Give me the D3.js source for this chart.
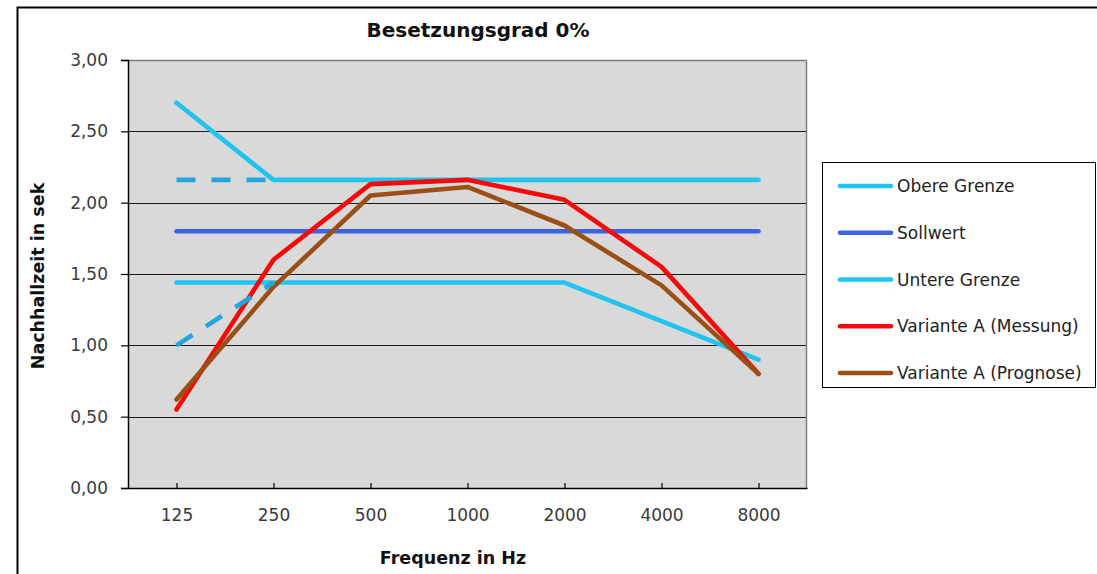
<!DOCTYPE html>
<html>
<head>
<meta charset="utf-8">
<script src="https://cdn.jsdelivr.net/npm/d3@7"></script>
<style>
  html, body { margin: 0; padding: 0; background: #fff; }
  svg { display: block; }
  text { font-family: "DejaVu Sans", sans-serif; }
</style>
</head>
<body>
<svg id="chart" width="1097" height="574"></svg>
<script>
// Frequenzbänder (Hz)
const frequencies = ["125", "250", "500", "1000", "2000", "4000", "8000"];

// Nachhallzeit in Sekunden je Band
const obereGrenze   = [2.70, 2.16, 2.16, 2.16, 2.16, 2.16, 2.16];
const sollwert      = [1.80, 1.80, 1.80, 1.80, 1.80, 1.80, 1.80];
const untereGrenze  = [1.44, 1.44, 1.44, 1.44, 1.44, 1.17, 0.90];
const messung       = [0.55, 1.60, 2.13, 2.16, 2.02, 1.55, 0.80];
const prognose      = [0.62, 1.41, 2.05, 2.11, 1.84, 1.42, 0.80];

// Toleranzbereich im Bassbereich (gestrichelt, nur 125–250 Hz)
const obereGrenzeBass  = [2.16, 2.16, null, null, null, null, null];
const untereGrenzeBass = [1.00, 1.44, null, null, null, null, null];

const yTicks = [0, 0.5, 1.0, 1.5, 2.0, 2.5, 3.0];

const titleText = "Besetzungsgrad 0%";
const xTitle = "Frequenz in Hz";
const yTitle = "Nachhallzeit in sek";

const series = [
  { name: "Obere Grenze",            values: obereGrenze,  color: "#20c4ee", legend: true },
  { name: "Sollwert",                values: sollwert,     color: "#3e63e2", legend: true },
  { name: "Untere Grenze",           values: untereGrenze, color: "#20c4ee", legend: true },
  { name: "Variante A (Messung)",    values: messung,      color: "#f50a0a", legend: true },
  { name: "Variante A (Prognose)",   values: prognose,     color: "#9b4f17", legend: true },
  { name: "Obere Grenze (Bass)",     values: obereGrenzeBass,  color: "#22a6dd", legend: false, dashed: true },
  { name: "Untere Grenze (Bass)",    values: untereGrenzeBass, color: "#22a6dd", legend: false, dashed: true }
];

const svg = d3.select("#chart");

// Rahmen des Diagrammbereichs
svg.append("rect")
  .attr("x", 17.5).attr("y", 7.5)
  .attr("width", 1100).attr("height", 600)
  .attr("fill", "#fff")
  .attr("stroke", "#000").attr("stroke-width", 2);

const plot = { left: 128, right: 807, top: 60, bottom: 488 };

const x = d3.scalePoint()
  .domain(frequencies)
  .range([plot.left, plot.right])
  .padding(0.5);

const y = d3.scaleLinear()
  .domain([0, 3])
  .range([plot.bottom, plot.top]);

const locale = d3.formatLocale({ decimal: ",", thousands: ".", grouping: [3], currency: ["", " €"] });
const fmt = locale.format(".2f");

// Zeichenfläche
svg.append("rect")
  .attr("x", plot.left).attr("y", plot.top)
  .attr("width", plot.right - plot.left)
  .attr("height", plot.bottom - plot.top)
  .attr("fill", "#d9d9d9");

// Gitternetzlinien
svg.append("g")
  .selectAll("line")
  .data(yTicks.filter(d => d > 0 && d < 3))
  .join("line")
  .attr("x1", plot.left).attr("x2", plot.right)
  .attr("y1", d => Math.round(y(d)) + 0.5)
  .attr("y2", d => Math.round(y(d)) + 0.5)
  .attr("stroke", "#1a1a1a").attr("stroke-width", 1.2);

// Obere und rechte Begrenzung
svg.append("path")
  .attr("d", `M${plot.left},${plot.top + 0.5}H${plot.right - 0.5}V${plot.bottom}`)
  .attr("fill", "none")
  .attr("stroke", "#7f7f7f").attr("stroke-width", 1.5);

// y-Achse
const yAxis = svg.append("g")
  .attr("transform", `translate(${plot.left},0)`)
  .call(d3.axisLeft(y).tickValues(yTicks).tickFormat(fmt).tickSize(7).tickPadding(13));
yAxis.select(".domain").attr("stroke", "#000").attr("stroke-width", 1.5);
yAxis.selectAll(".tick line").attr("stroke", "#000").attr("stroke-width", 1.2);
yAxis.selectAll(".tick text")
  .attr("font-family", "DejaVu Sans").attr("font-size", 17).attr("fill", "#3a3a3a");

// x-Achse
const xAxis = svg.append("g")
  .attr("transform", `translate(0,${plot.bottom})`)
  .call(d3.axisBottom(x).tickSizeInner(-5).tickSizeOuter(0).tickPadding(17));
xAxis.select(".domain").attr("stroke", "#000").attr("stroke-width", 1.5);
xAxis.selectAll(".tick line").attr("stroke", "#000").attr("stroke-width", 1.2);
xAxis.selectAll(".tick text")
  .attr("font-family", "DejaVu Sans").attr("font-size", 17).attr("fill", "#3a3a3a")
  .attr("dy", "0.95em");

// Kurven
const line = d3.line()
  .defined(d => d.v != null)
  .x(d => x(d.f))
  .y(d => y(d.v));

svg.append("g")
  .selectAll("path")
  .data(series)
  .join("path")
  .attr("d", s => line(s.values.map((v, i) => ({ f: frequencies[i], v }))))
  .attr("fill", "none")
  .attr("stroke", s => s.color)
  .attr("stroke-width", 4.6)
  .attr("stroke-linejoin", "round")
  .attr("stroke-linecap", s => s.dashed ? "butt" : "round")
  .attr("stroke-dasharray", s => s.dashed ? "19 16" : null);

// Titel
svg.append("text")
  .attr("x", 478).attr("y", 37)
  .attr("text-anchor", "middle")
  .attr("font-size", 20).attr("font-weight", "bold")
  .attr("fill", "#111")
  .text(titleText);

// Achsentitel
svg.append("text")
  .attr("x", 453).attr("y", 564)
  .attr("text-anchor", "middle")
  .attr("font-size", 17.5).attr("font-weight", "bold")
  .attr("fill", "#111")
  .text(xTitle);

svg.append("text")
  .attr("transform", `translate(44,276) rotate(-90)`)
  .attr("text-anchor", "middle")
  .attr("font-size", 17.5).attr("font-weight", "bold")
  .attr("fill", "#111")
  .text(yTitle);

// Legende
const legendItems = series.filter(s => s.legend);
const legend = svg.append("g");
legend.append("rect")
  .attr("x", 822.5).attr("y", 162.5)
  .attr("width", 273).attr("height", 225)
  .attr("fill", "#fff")
  .attr("stroke", "#000").attr("stroke-width", 1);

const rowY = d3.scalePoint()
  .domain(legendItems.map(d => d.name))
  .range([186, 373]);

const rows = legend.selectAll("g.row")
  .data(legendItems)
  .join("g")
  .attr("class", "row")
  .attr("transform", d => `translate(0,${rowY(d.name)})`);

rows.append("line")
  .attr("x1", 840).attr("x2", 891)
  .attr("stroke", d => d.color)
  .attr("stroke-width", 4.6)
  .attr("stroke-linecap", "round");

rows.append("text")
  .attr("x", 897).attr("dy", "0.36em")
  .attr("font-size", 17)
  .attr("fill", "#222")
  .text(d => d.name);
</script>
</body>
</html>
